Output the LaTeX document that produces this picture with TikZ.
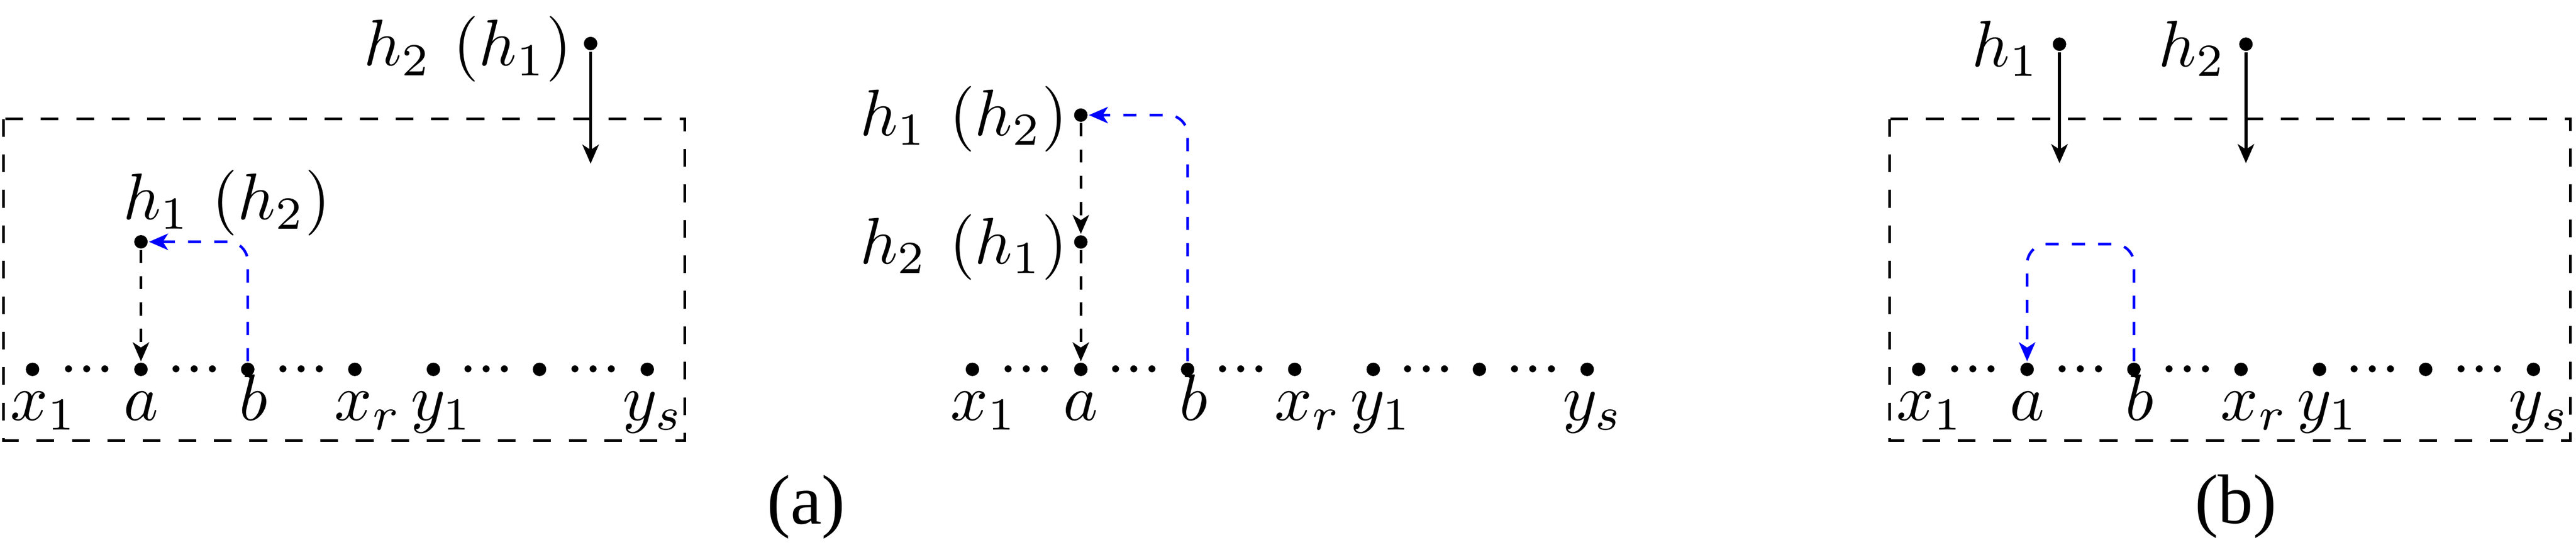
\documentclass[tikz,border=0pt]{standalone}
\usepackage[no-math]{fontspec}
\newfontfamily\capfont{Liberation Serif}
\usetikzlibrary{arrows.meta,calc}
\tikzset{
  dotnode/.style={circle,fill=black,inner sep=0pt,minimum size=2.05pt},
  ellnode/.style={inner sep=0pt,anchor=base,yshift=-2.5pt},
  rowlab/.style={inner sep=0pt,anchor=base},
  toplab/.style={inner sep=0pt},
  frame/.style={draw,line width=0.4pt,dash pattern=on 2.7pt off 2.7pt},
  solidarr/.style={line width=0.45pt,-{Stealth[length=2.9pt,width=2.5pt,inset=0.8pt]}},
  dasharr/.style={line width=0.4pt,dash pattern=on 2pt off 2pt,-{Stealth[length=2.9pt,width=2.5pt,inset=0.8pt]}},
  bluearr/.style={dasharr,blue,rounded corners=3pt},
  captext/.style={inner sep=0pt,font=\capfont\fontsize{10.7pt}{13pt}\selectfont}
}
\newcommand{\tridots}{${\cdot}{\cdot}{\cdot}$}
\newcommand{\panelrow}[2]{%
  \node[dotnode] (#2x1) at ({#1+19.8},225) {};
  \node[dotnode] (#2a)  at ({#1+85.8},225) {};
  \node[dotnode] (#2b)  at ({#1+150.8},225) {};
  \node[dotnode] (#2xr) at ({#1+216},225) {};
  \node[dotnode] (#2y1) at ({#1+263.8},225) {};
  \node[dotnode] (#2m)  at ({#1+328.4},225) {};
  \node[dotnode] (#2ys) at ({#1+394},225) {};
  \node[ellnode] (#2e1) at ($(#2x1)!0.5!(#2a)$) {\tridots};
  \node[ellnode] (#2e2) at ($(#2a)!0.5!(#2b)$) {\tridots};
  \node[ellnode] (#2e3) at ($(#2b)!0.5!(#2xr)$) {\tridots};
  \node[ellnode] (#2e4) at ($(#2y1)!0.5!(#2m)$) {\tridots};
  \node[ellnode] (#2e5) at ($(#2m)!0.5!(#2ys)$) {\tridots};
  \node[rowlab] (#2lx1) at ($(#2x1)+(7,31)$) {$x_1$};
  \node[rowlab] (#2la)  at ($(#2a)+(0,31)$) {$a$};
  \node[rowlab] (#2lb)  at ($(#2b)+(3.5,31)$) {$b$};
  \node[rowlab] (#2lxr) at ($(#2xr)+(8,31)$) {$x_r$};
  \node[rowlab] (#2ly1) at ($(#2y1)+(5,31)$) {$y_1$};
  \node[rowlab] (#2lys) at ($(#2ys)+(3.5,31)$) {$y_s$};
}
\begin{document}
\begin{tikzpicture}[x=0.25pt,y=-0.25pt]
\useasboundingbox (0,0) rectangle (1568,331.7);

% ---------- panel (a), left ----------
\draw[frame] (2.2,72.5) rectangle (416.9,268.5);
\panelrow{0}{L}
\node[dotnode] (Lh2) at (359.5,26.5) {};
\node[toplab,anchor=east] (Lh2lab) at (348.8,30) {$h_2\ (h_1)$};
\coordinate (Lh2end) at (359.5,99.7);
\draw[solidarr] (Lh2) -- (Lh2end);
\node[dotnode] (Lh1) at (85.8,147.3) {};
\node[toplab,anchor=west] (Lh1lab) at (74.1,123.5) {$h_1\ (h_2)$};
\draw[dasharr] (Lh1) -- (La);
\draw[bluearr] (Lb) |- (Lh1);

% ---------- panel (a), middle ----------
\panelrow{572.1}{M}
\node[dotnode] (Mh1) at (657.9,70.1) {};
\node[dotnode] (Mh2) at (657.9,147.4) {};
\node[toplab,anchor=east] (Mh1lab) at (650.7,72.5) {$h_1\ (h_2)$};
\node[toplab,anchor=east] (Mh2lab) at (650.7,150.6) {$h_2\ (h_1)$};
\draw[dasharr] (Mh1) -- (Mh2);
\draw[dasharr] (Mh2) -- (Ma);
\draw[bluearr] (Mb) |- (Mh1);

% ---------- panel (b) ----------
\draw[frame] (1150.1,72.5) rectangle (1564.6,268.5);
\panelrow{1148.1}{B}
\node[dotnode] (Bh1) at (1253.6,26.9) {};
\node[dotnode] (Bh2) at (1367.1,26.9) {};
\node[toplab,anchor=east] (Bh1lab) at (1242.2,29.6) {$h_1$};
\node[toplab,anchor=east] (Bh2lab) at (1355.8,29.6) {$h_2$};
\coordinate (Bh1end) at (1253.6,99.4);
\coordinate (Bh2end) at (1367.1,99.4);
\draw[solidarr] (Bh1) -- (Bh1end);
\draw[solidarr] (Bh2) -- (Bh2end);
\coordinate (Btop) at (1298.9,148.7);
\draw[bluearr] (Bb) -- (Btop) -- (Ba |- Btop) -- (Ba);

% ---------- captions ----------
\node[captext] (capa) at (490.7,309) {(a)};
\node[captext] (capb) at (1360.9,308.6) {(b)};
\end{tikzpicture}
\end{document}
